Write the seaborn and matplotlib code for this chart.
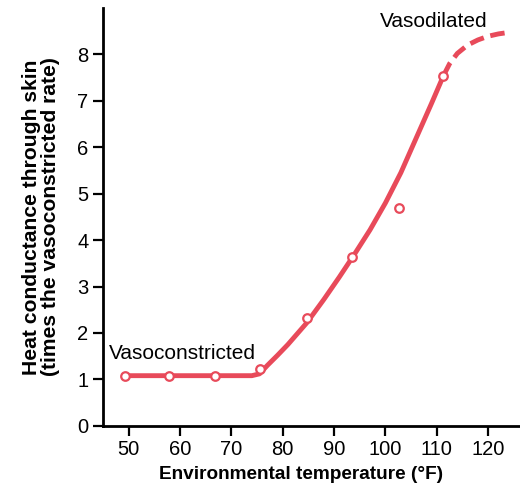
import matplotlib
matplotlib.use('Agg')
import matplotlib.pyplot as plt
import pandas as pd
import seaborn as sns

# measured points
temp_pts = [49.2, 57.9, 66.8, 75.6, 84.7, 93.4, 102.6, 111.3]
cond_pts = [1.08, 1.08, 1.08, 1.23, 2.33, 3.64, 4.70, 7.54]

# fitted curve (solid part, then dashed extrapolation)
curve_x = [49.2, 60, 70, 74, 75.5, 77, 79, 81, 84.7, 88, 91, 94, 97, 100, 103, 106, 109, 111.3]
curve_y = [1.08, 1.08, 1.08, 1.08, 1.12, 1.3, 1.52, 1.75, 2.22, 2.72, 3.2, 3.7, 4.22, 4.8, 5.45, 6.2, 6.95, 7.54]
dash_x = [111.3, 112.5, 114, 116, 118, 120, 122, 124.5]
dash_y = [7.54, 7.8, 8.02, 8.2, 8.31, 8.39, 8.44, 8.48]

red = '#e84a5a'

sns.set_style('ticks')
plt.rcParams['font.family'] = ['Liberation Sans', 'DejaVu Sans']
plt.rcParams['text.color'] = 'black'
plt.rcParams['axes.labelcolor'] = 'black'

fig = plt.figure(figsize=(5.2, 4.94), dpi=100)
ax = fig.add_axes([0.198, 0.138, 0.80, 0.846])

sns.lineplot(x=curve_x, y=curve_y, ax=ax, color=red, linewidth=3.5, sort=False)
sns.lineplot(x=dash_x, y=dash_y, ax=ax, color=red, linewidth=3.5, sort=False, linestyle=(0, (3, 1.4)))
sns.scatterplot(x=temp_pts, y=cond_pts, ax=ax, s=38, facecolor='white', edgecolor=red, linewidth=1.6, zorder=5)

ax.text(60.5, 1.55, 'Vasoconstricted', fontsize=15, ha='center', va='center')
ax.text(109.4, 8.7, 'Vasodilated', fontsize=15, ha='center', va='center')

ax.set_xlim(45, 126)
ax.set_ylim(0, 9)
ax.set_xticks(range(50, 121, 10))
ax.set_yticks(range(0, 9))
ax.tick_params(labelsize=14.5, width=1.6, length=7, color='black', labelcolor='black')
for s in ['left', 'bottom']:
    ax.spines[s].set_linewidth(2)
    ax.spines[s].set_color('black')
sns.despine(ax=ax)
ax.set_xlabel('Environmental temperature (°F)', fontsize=13.7, fontweight='bold')
ax.xaxis.set_label_coords(0.477, -0.097)
ax.set_ylabel('Heat conductance through skin\n(times the vasoconstricted rate)', fontsize=15.2,
              fontweight='bold', labelpad=12, linespacing=1.0)

fig.savefig('out.png', dpi=100)
